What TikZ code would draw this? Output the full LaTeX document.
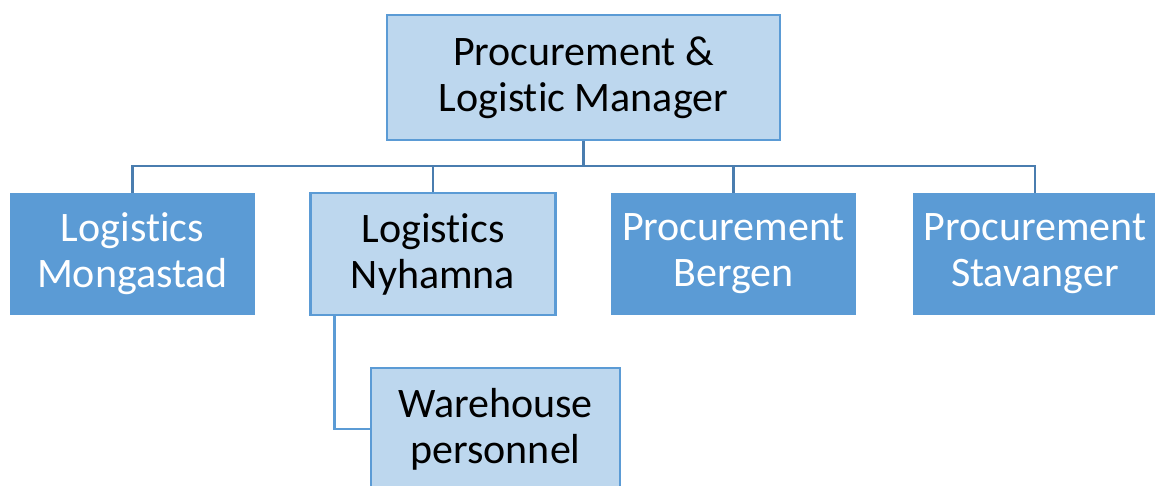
\documentclass[tikz,border=0pt]{standalone}
\usepackage{fontspec}
\setmainfont{Carlito}[Ligatures=NoCommon]
\usetikzlibrary{positioning}
\definecolor{boxlight}{HTML}{BDD7EE}
\definecolor{boxdark}{HTML}{5B9BD5}
\definecolor{linkline}{HTML}{4A7DAF}
\begin{document}
\begin{tikzpicture}[x=1pt,y=-1pt,
    unit/.style={minimum width=245pt,minimum height=122pt,inner sep=0pt,
      align=center,font=\fontsize{42}{46}\selectfont},
    lightunit/.style={unit,fill=boxlight,draw=boxdark,line width=2.5pt},
    darkunit/.style={unit,fill=boxdark,text=white},
    link/.style={draw=linkline,line width=2.5pt}]
\clip (0,0) rectangle (1155,486);
\useasboundingbox (0,0) rectangle (1155,486);
\node[lightunit,minimum width=393pt,minimum height=125pt] (mgr) at (583.5,77.5) {Procurement \&\\Logistic Manager};
\node[darkunit] (mon) at (132.5,254) {Logistics\\Mongastad};
\node[lightunit] (nyh) at (433,254) {Logistics\\Nyhamna};
\node[darkunit] (ber) at (733.5,254) {Procurement\\Bergen};
\node[darkunit] (sta) at (1035,254) {Procurement\\Stavanger};
\node[lightunit,minimum width=249pt] (wh) at (495.5,429) {Warehouse\\personnel};
\coordinate (bus) at (583.5,166);
\path[link]
  (mgr.south) -- (bus)
  (mon.north) |- (bus) -| (sta.north)
  (nyh.north) -- (nyh.north |- bus)
  (ber.north) -- (ber.north |- bus);
\draw[draw=boxdark,line width=2.5pt] ([xshift=25pt]nyh.south west) |- (wh.west);
\end{tikzpicture}
\end{document}
